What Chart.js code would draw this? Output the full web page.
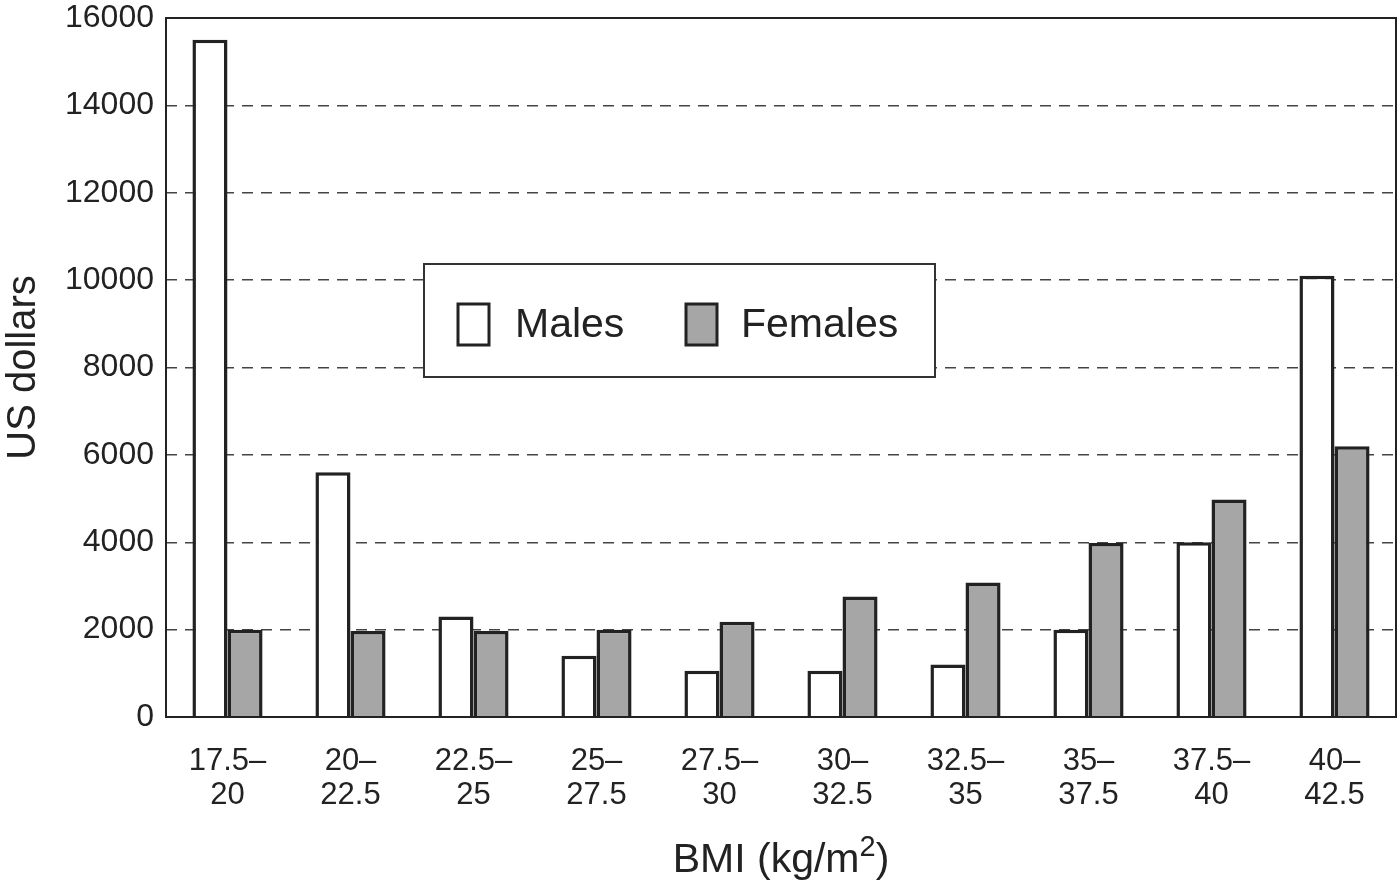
<!DOCTYPE html>
<html>
<head>
<meta charset="utf-8">
<script src="https://cdn.jsdelivr.net/npm/chart.js@4"></script>
<style>
  html, body { margin: 0; padding: 0; background: #fff; }
  #wrap { width: 1399px; height: 887px; }
</style>
</head>
<body>
<div id="wrap"><canvas id="graph--bmi" width="1399" height="887"></canvas></div>
<script>
// BMI groups along the x-axis (two lines each)
const bmiGroups = [
  ['17.5–', '20'], ['20–', '22.5'], ['22.5–', '25'], ['25–', '27.5'], ['27.5–', '30'],
  ['30–', '32.5'], ['32.5–', '35'], ['35–', '37.5'], ['37.5–', '40'], ['40–', '42.5']
]
// Costs in US dollars
const males = [15500, 5600, 2300, 1400, 1060, 1060, 1200, 2000, 4000, 10100]
const females = [2000, 1970, 1970, 2000, 2180, 2760, 3080, 3980, 4980, 6200]
const yTicks = [0, 2000, 4000, 6000, 8000, 10000, 12000, 14000, 16000]

const ink = '#222'
const font = 'Liberation Sans, Arial, sans-serif'

// frame round the plot area
const framePlugin = {
  id: 'frame',
  afterDraw(chart) {
    const { ctx, chartArea: a } = chart
    ctx.save()
    ctx.strokeStyle = ink
    ctx.lineWidth = 2
    ctx.strokeRect(a.left, a.top, a.right - a.left, a.bottom - a.top)
    ctx.restore()
  }
}

// boxed legend inside the plot
const boxLegend = {
  id: 'boxLegend',
  afterDraw(chart) {
    const { ctx } = chart
    const x = 424, y = 264, w = 511, h = 113
    ctx.save()
    ctx.fillStyle = '#fff'
    ctx.fillRect(x, y, w, h)
    ctx.strokeStyle = '#333'
    ctx.lineWidth = 2
    ctx.strokeRect(x, y, w, h)
    ctx.font = '41px ' + font
    ctx.textBaseline = 'middle'
    const items = [[458, 515], [686, 741]]
    chart.data.datasets.forEach((ds, i) => {
      const [sx, tx] = items[i]
      ctx.fillStyle = ds.backgroundColor
      ctx.fillRect(sx, 304, 31, 41)
      ctx.strokeStyle = ink
      ctx.lineWidth = 3
      ctx.strokeRect(sx, 304, 31, 41)
      ctx.fillStyle = ink
      ctx.fillText(ds.label, tx, 326)
    })
    ctx.restore()
  }
}

// x-axis title with superscript
const xTitle = {
  id: 'xTitle',
  afterDraw(chart) {
    const { ctx, chartArea: a } = chart
    ctx.save()
    ctx.fillStyle = ink
    ctx.textBaseline = 'alphabetic'
    const big = '41px ' + font, small = '29px ' + font
    ctx.font = big
    const p1 = 'BMI (kg/m', p3 = ')'
    const w1 = ctx.measureText(p1).width, w3 = ctx.measureText(p3).width
    ctx.font = small
    const w2 = ctx.measureText('2').width
    let x = (a.left + a.right) / 2 - (w1 + w2 + w3) / 2
    const base = 872
    ctx.font = big
    ctx.fillText(p1, x, base)
    x += w1
    ctx.font = small
    ctx.fillText('2', x, base - 16)
    x += w2
    ctx.font = big
    ctx.fillText(p3, x, base)
    ctx.restore()
  }
}

const bmiChart = new Chart(document.querySelector('#graph--bmi'), {
  type: 'bar',
  data: {
    labels: bmiGroups,
    datasets: [
      {
        label: 'Males',
        data: males,
        backgroundColor: '#ffffff',
        borderColor: ink,
        borderWidth: 3.5,
        borderSkipped: 'bottom',
        categoryPercentage: 0.57,
        barPercentage: 1
      },
      {
        label: 'Females',
        data: females,
        backgroundColor: '#a6a6a6',
        borderColor: ink,
        borderWidth: 3.5,
        borderSkipped: 'bottom',
        categoryPercentage: 0.57,
        barPercentage: 1
      }
    ]
  },
  options: {
    responsive: false,
    animation: false,
    devicePixelRatio: 1,
    layout: { padding: { top: 18, right: 3, left: 0, bottom: 0 } },
    plugins: {
      legend: { display: false },
      tooltip: { enabled: false }
    },
    scales: {
      x: {
        grid: { display: false },
        border: { display: false },
        ticks: {
          color: ink,
          font: { family: font, size: 31, lineHeight: 1.1 },
          padding: 19,
          maxRotation: 0,
          autoSkip: false
        },
        afterFit(scale) { scale.height = 170 }
      },
      y: {
        min: 0,
        max: 16000,
        afterBuildTicks(scale) { scale.ticks = yTicks.map(v => ({ value: v })) },
        grid: {
          color: ctx => (ctx.tick && (ctx.tick.value === 0 || ctx.tick.value === 16000)) ? 'rgba(0,0,0,0)' : '#444',
          lineWidth: 1.5,
          drawTicks: false
        },
        border: { display: false, dash: [11, 8] },
        ticks: {
          color: ink,
          font: { family: font, size: 32 },
          padding: 12,
          callback: v => String(v)
        },
        title: {
          display: true,
          text: 'US dollars',
          color: ink,
          font: { family: font, size: 40 },
          padding: { top: 0, bottom: 0 }
        },
        afterFit(scale) {
          scale.width = 166
          scale.paddingTop = 0
          scale.paddingBottom = 0
        }
      }
    }
  },
  plugins: [framePlugin, boxLegend, xTitle]
})
</script>
</body>
</html>
